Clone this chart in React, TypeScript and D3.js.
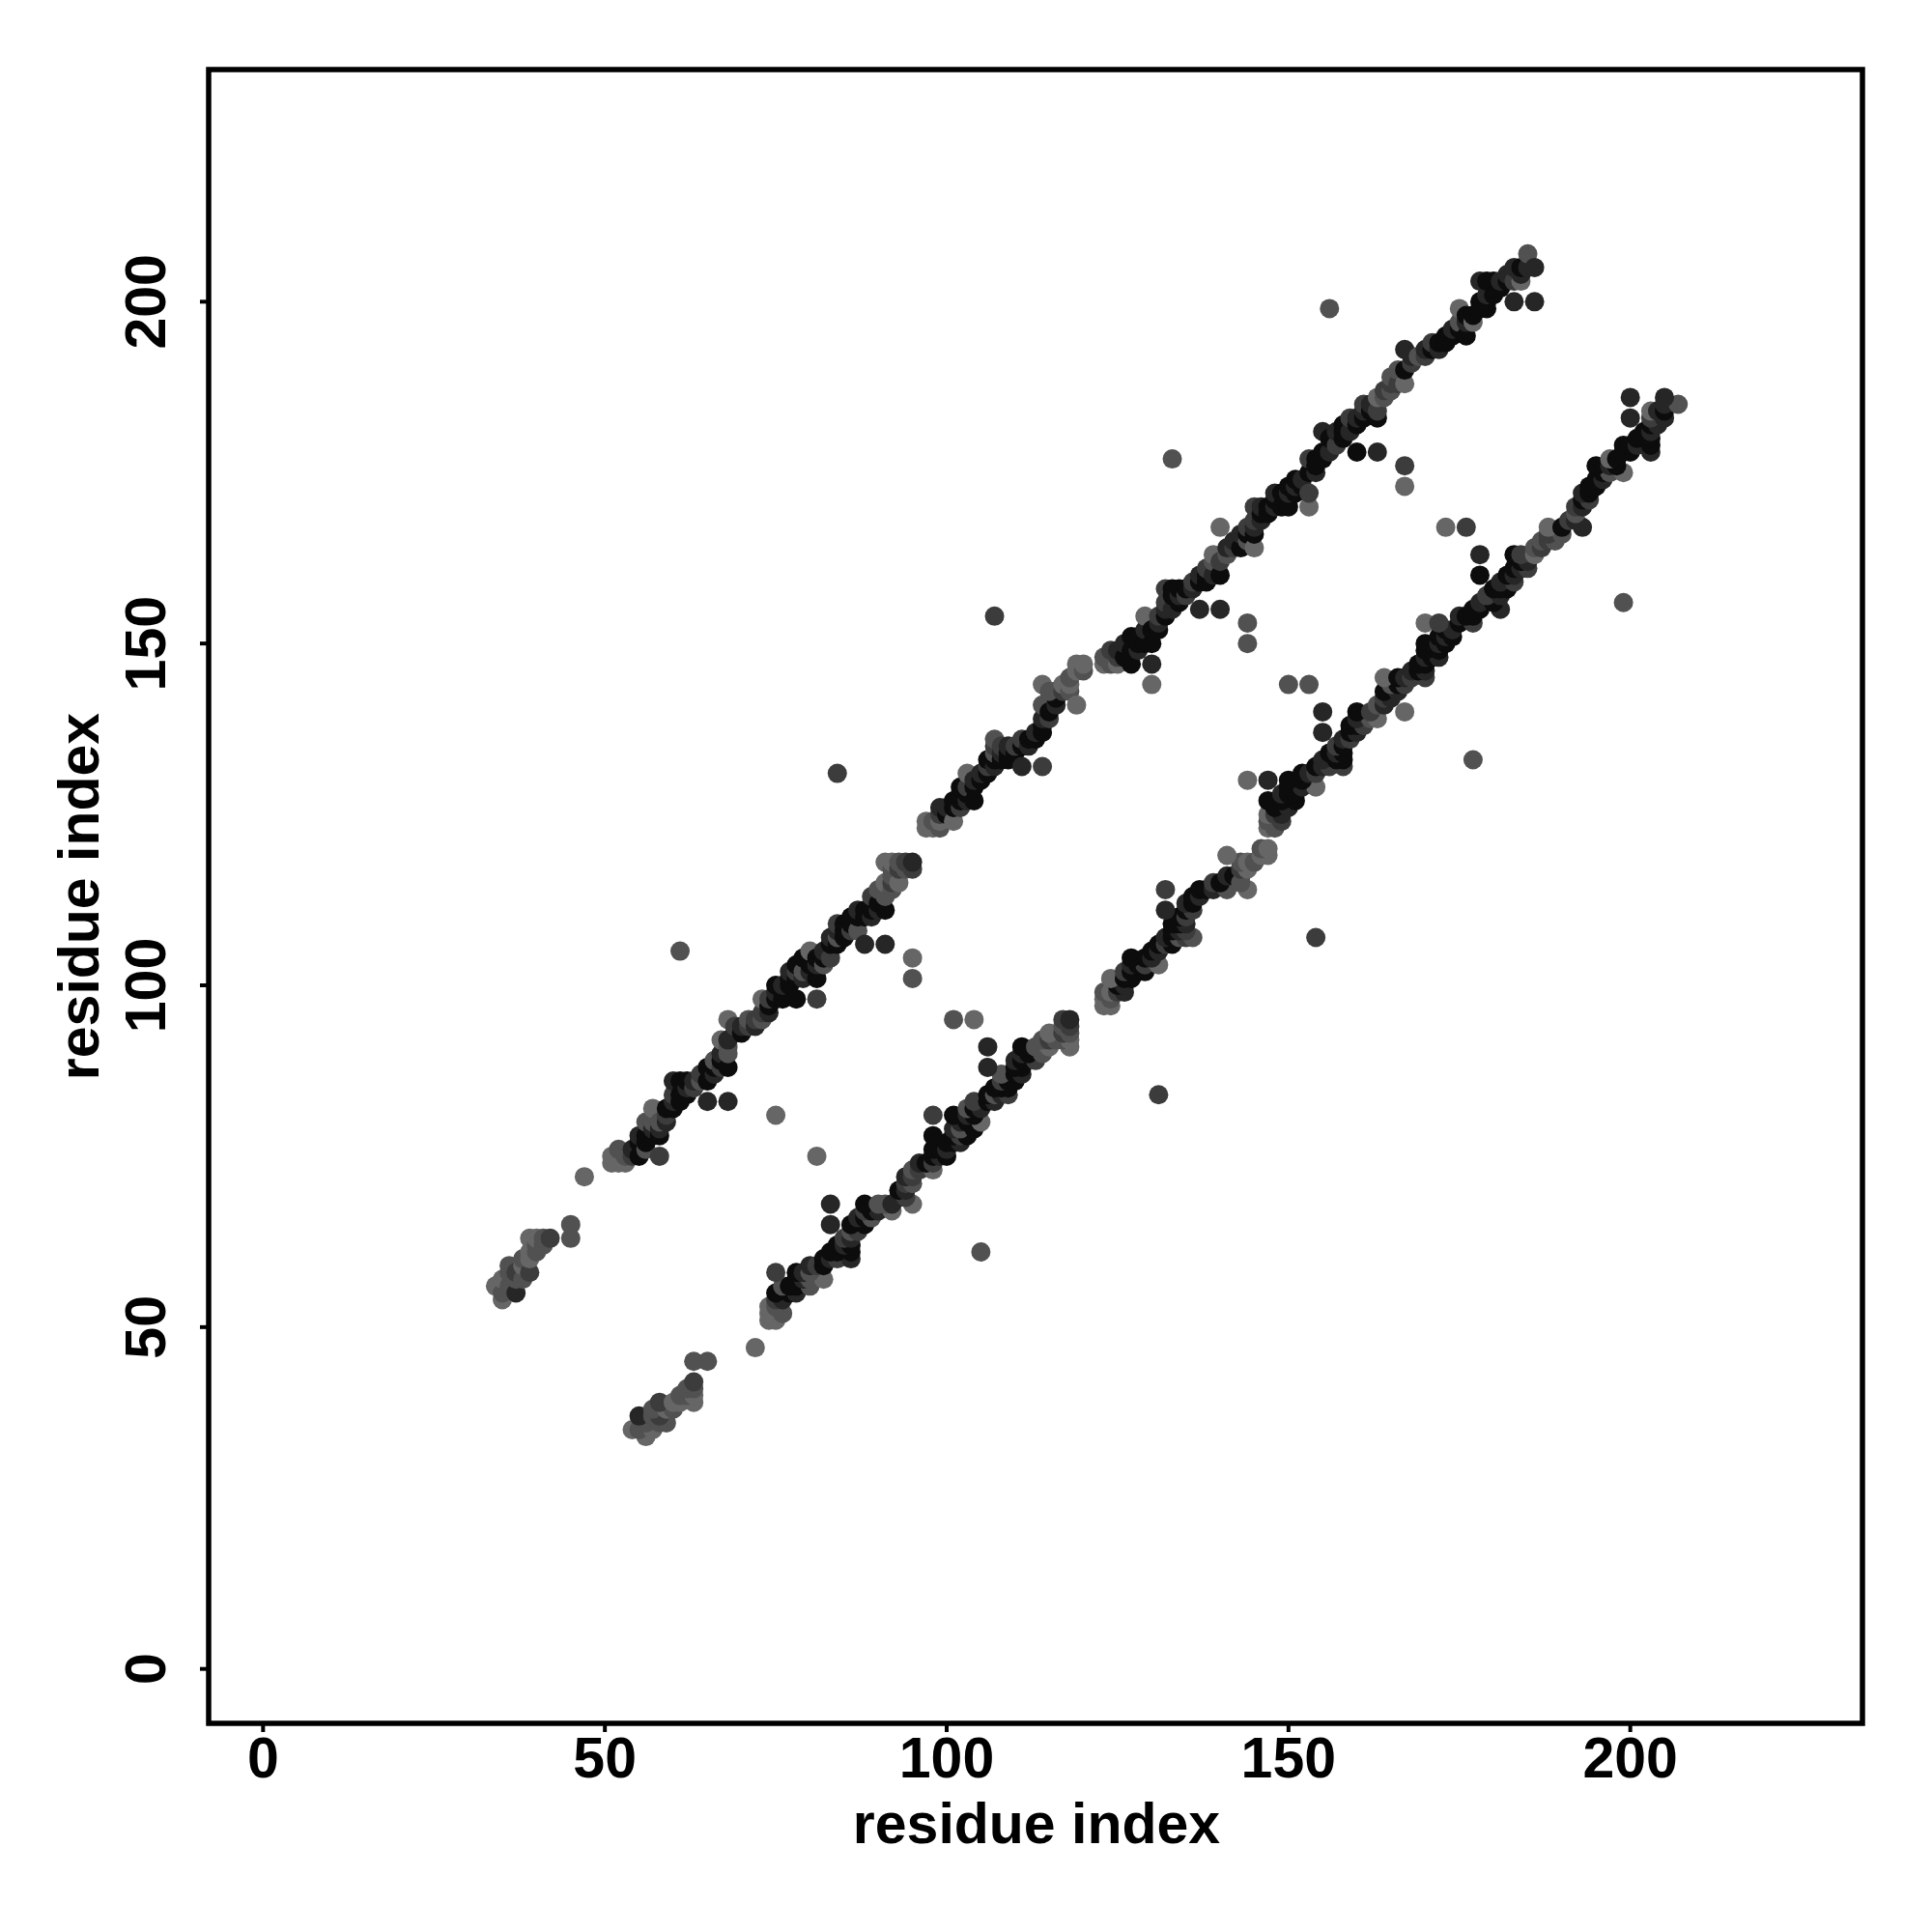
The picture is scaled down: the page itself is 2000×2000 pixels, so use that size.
import React from 'react';
import * as d3 from 'd3';

// ---- data ----
const X_TICKS = [0, 50, 100, 150, 200];
const Y_TICKS = [0, 50, 100, 150, 200];
const RESIDUE_RANGE = [1, 225];
const X_LABEL = 'residue index';
const Y_LABEL = 'residue index';
const SHADES = ['#0c0c0c', '#262626', '#3c3c3c', '#515151', '#666666'];

// contact pairs [residue i, residue j, shade level]; the map is symmetric
const SEGMENT_A: [number, number, number][] = [
  [34, 56, 4], [35, 54, 4], [35, 55, 3], [35, 57, 4], [36, 56, 3], [36, 58, 3], [36, 59, 3], [37, 55, 1],
  [37, 57, 3], [37, 58, 2], [38, 57, 3], [38, 59, 4], [38, 60, 3], [39, 58, 2], [39, 60, 4], [39, 61, 4],
  [39, 63, 4], [40, 61, 3], [40, 62, 3], [40, 63, 4], [41, 62, 3], [41, 63, 3], [42, 63, 2], [45, 63, 3],
  [45, 65, 3], [47, 72, 4],
];
const SEGMENT_B: [number, number, number][] = [
  [51, 74, 4], [51, 75, 4], [52, 74, 4], [52, 76, 3], [53, 74, 4], [53, 75, 3], [54, 75, 2], [54, 76, 1],
  [55, 75, 0], [55, 77, 0], [55, 78, 1], [56, 76, 3], [56, 77, 0], [56, 78, 0], [56, 80, 3], [57, 78, 0],
  [57, 79, 1], [57, 80, 3], [57, 82, 4], [58, 75, 2], [58, 78, 0], [58, 79, 1], [58, 80, 3], [59, 80, 1],
  [59, 81, 2], [59, 82, 0], [60, 82, 0], [60, 83, 1], [60, 84, 2], [60, 86, 1], [61, 83, 0], [61, 84, 0],
  [61, 86, 0], [62, 84, 0], [62, 85, 1], [62, 86, 0], [63, 85, 2], [63, 86, 1], [64, 86, 3], [64, 87, 2],
  [65, 83, 1], [65, 86, 0], [65, 88, 0], [66, 87, 1], [66, 88, 0], [66, 89, 3], [67, 88, 2], [67, 89, 0],
  [67, 90, 1], [67, 92, 4], [68, 83, 1], [68, 88, 0], [68, 90, 3], [68, 91, 3], [68, 92, 1], [68, 95, 4],
];
const SEGMENT_C: [number, number, number][] = [
  [69, 93, 1], [69, 94, 2], [70, 93, 0], [70, 94, 1], [71, 94, 2], [71, 95, 3], [72, 94, 1], [72, 95, 2],
  [73, 95, 3], [73, 96, 2], [73, 98, 4], [74, 96, 1], [74, 97, 0], [74, 98, 2], [75, 98, 0], [75, 99, 1],
  [75, 100, 0], [76, 98, 0], [76, 99, 0], [76, 100, 1], [77, 100, 0], [77, 101, 0], [77, 102, 1], [78, 98, 0],
  [78, 101, 0], [78, 102, 2], [78, 103, 0], [79, 101, 1], [79, 102, 3], [79, 104, 0], [80, 102, 1], [80, 103, 0],
  [80, 105, 4], [81, 98, 2], [81, 101, 0], [81, 103, 1], [81, 104, 0], [82, 103, 3], [82, 104, 0], [82, 105, 1],
  [83, 104, 2], [83, 106, 0], [83, 107, 1], [84, 106, 0], [84, 107, 3], [84, 108, 1], [84, 109, 2], [85, 107, 0],
  [85, 108, 0], [85, 109, 0], [86, 108, 2], [86, 109, 0], [86, 110, 0], [87, 108, 3], [87, 110, 0], [87, 111, 1],
  [88, 106, 1], [88, 110, 0], [88, 111, 0], [89, 110, 1], [89, 111, 0], [89, 113, 2], [90, 111, 1], [90, 112, 0],
  [90, 114, 3], [91, 106, 1], [91, 111, 0], [91, 113, 3], [91, 115, 4], [92, 114, 3], [92, 115, 2], [92, 116, 3],
  [91, 118, 4], [92, 117, 3], [92, 118, 4], [93, 115, 4], [93, 117, 2], [93, 118, 3], [94, 117, 3], [94, 118, 2],
  [95, 117, 2], [95, 118, 1], [95, 101, 3], [95, 104, 4],
];
const SEGMENT_D: [number, number, number][] = [
  [97, 123, 4], [97, 124, 4], [98, 123, 4], [98, 124, 3], [99, 123, 3], [99, 124, 4], [99, 125, 2], [99, 126, 1],
  [100, 125, 0], [100, 126, 1], [101, 124, 4], [101, 126, 0], [101, 127, 0], [102, 126, 2], [102, 127, 0], [102, 128, 0],
  [102, 129, 0], [103, 127, 1], [103, 128, 0], [103, 129, 2], [103, 131, 4], [104, 127, 0], [104, 129, 0], [104, 130, 1],
  [105, 130, 0], [105, 131, 1], [106, 131, 0], [106, 132, 2], [106, 133, 0], [107, 132, 1], [107, 133, 0], [107, 134, 3],
  [107, 135, 2], [107, 136, 3], [108, 133, 0], [108, 134, 1], [108, 135, 2], [109, 133, 0], [109, 134, 0], [109, 135, 1],
  [110, 134, 0], [110, 135, 2], [111, 132, 1], [111, 135, 0], [111, 136, 2], [112, 135, 1], [112, 136, 0], [113, 136, 0],
  [113, 137, 1], [114, 132, 2], [114, 137, 0], [114, 138, 0], [114, 139, 1], [114, 141, 3], [115, 139, 2], [115, 140, 0],
  [116, 141, 1], [116, 142, 0], [116, 143, 0], [114, 144, 4], [115, 143, 3], [117, 143, 2], [117, 144, 4], [118, 143, 3],
  [118, 144, 4], [118, 145, 3], [119, 141, 4], [119, 146, 4], [119, 147, 4], [120, 146, 3], [120, 147, 4],
];
const SEGMENT_E: [number, number, number][] = [
  [123, 147, 4], [123, 148, 3], [124, 147, 3], [124, 149, 2], [125, 147, 4], [125, 148, 2], [125, 149, 1], [126, 148, 0],
  [126, 150, 1], [127, 147, 0], [127, 149, 0], [127, 151, 0], [128, 149, 1], [128, 150, 0], [128, 151, 0], [129, 150, 0],
  [129, 152, 1], [129, 154, 4], [130, 147, 1], [130, 144, 4], [130, 150, 0], [130, 152, 0], [131, 152, 0], [131, 153, 1],
  [131, 154, 2], [132, 154, 0], [132, 155, 1], [132, 156, 2], [132, 158, 2], [133, 155, 1], [133, 157, 0], [133, 158, 0],
  [134, 156, 0], [134, 157, 1], [134, 158, 0], [135, 157, 2], [135, 158, 0], [136, 158, 1], [136, 159, 2], [137, 155, 1],
  [137, 159, 0], [137, 160, 1], [138, 159, 0], [138, 160, 0], [138, 161, 2], [139, 160, 1], [139, 162, 3], [139, 163, 4],
  [140, 155, 1], [140, 160, 0], [140, 162, 2], [140, 167, 4], [141, 163, 3], [141, 164, 1], [142, 164, 2], [142, 165, 1],
  [143, 164, 0], [143, 166, 1], [144, 150, 3], [144, 153, 3], [144, 165, 3], [144, 166, 0], [144, 167, 2], [145, 164, 4],
  [145, 166, 0], [145, 167, 1], [145, 168, 2], [145, 170, 2], [146, 168, 1], [146, 169, 0], [146, 170, 1], [147, 169, 0],
  [147, 170, 0], [148, 170, 1], [148, 171, 0], [148, 172, 1], [149, 170, 0], [149, 172, 0], [150, 170, 0], [150, 172, 1],
  [150, 173, 0], [151, 172, 0], [151, 173, 1], [151, 174, 0], [152, 173, 0], [152, 174, 1], [153, 170, 4], [153, 172, 2],
  [153, 175, 0], [153, 177, 2],
];
const SEGMENT_F: [number, number, number][] = [
  [154, 175, 1], [154, 176, 0], [154, 177, 0], [155, 177, 0], [155, 178, 0], [155, 181, 1], [156, 178, 1], [156, 180, 0],
  [157, 179, 2], [157, 181, 1], [158, 180, 0], [158, 181, 0], [158, 182, 0], [159, 181, 1], [159, 183, 2], [160, 178, 0],
  [160, 182, 0], [160, 183, 1], [161, 183, 0], [161, 184, 1], [161, 185, 2], [162, 184, 0], [162, 185, 1], [163, 178, 1],
  [163, 183, 0], [163, 184, 2], [163, 186, 4], [164, 186, 3], [164, 187, 2], [165, 187, 3], [165, 188, 2], [165, 189, 3],
  [166, 188, 2], [166, 190, 3], [167, 173, 4], [167, 176, 2], [167, 188, 4], [167, 190, 0], [167, 193, 1], [168, 191, 2],
  [168, 192, 1], [169, 192, 3], [170, 192, 2], [170, 193, 1], [171, 193, 0], [171, 194, 2], [172, 193, 1], [172, 194, 0],
  [173, 194, 0], [173, 195, 0], [174, 195, 0], [174, 196, 1], [175, 196, 0], [175, 197, 3], [175, 199, 4], [176, 195, 0],
  [176, 197, 1], [176, 198, 0], [177, 197, 4], [177, 198, 0], [178, 199, 0], [178, 200, 0], [178, 203, 1], [179, 199, 0],
  [179, 200, 0], [179, 201, 1], [179, 203, 0], [180, 201, 0], [180, 203, 0], [181, 202, 0], [181, 203, 1], [182, 203, 0],
  [182, 204, 1], [183, 200, 1], [183, 203, 2], [183, 205, 1], [184, 203, 4], [184, 204, 1], [184, 205, 0], [185, 205, 1],
  [185, 207, 3], [186, 200, 1], [186, 205, 1],
];
const OUTLIERS: [number, number, number][] = [
  [61, 105, 3], [75, 81, 4], [84, 131, 2], [107, 154, 2], [133, 177, 3], [156, 199, 3],
];

const CONTACTS = [
  ...SEGMENT_A, ...SEGMENT_B, ...SEGMENT_C, ...SEGMENT_D, ...SEGMENT_E, ...SEGMENT_F, ...OUTLIERS,
];

export default function App() {
  const W = 2000;
  const H = 2000;
  const left = 216, right = 1928, top = 72, bottom = 1784;
  const pad = (RESIDUE_RANGE[1] - RESIDUE_RANGE[0]) * 0.04;
  const dom = [RESIDUE_RANGE[0] - pad, RESIDUE_RANGE[1] + pad];
  const x = d3.scaleLinear().domain(dom).range([left, right]);
  const y = d3.scaleLinear().domain(dom).range([bottom, top]);

  const points = CONTACTS.flatMap(([i, j, s]) => [
    { px: i, py: j, s },
    { px: j, py: i, s },
  ]);

  const font = "'Liberation Sans', Arial, Helvetica, sans-serif";
  const fs = 59;

  return (
    <svg
      width={W}
      height={H}
      viewBox={`0 0 ${W} ${H}`}
      style={{ position: 'absolute', left: 0, top: 0, background: '#fff' }}
    >
      <rect x={0} y={0} width={W} height={H} fill="#fff" />
      <g>
        {points.map((p, k) => (
          <circle key={k} cx={x(p.px)} cy={y(p.py)} r={10} fill={SHADES[p.s]} />
        ))}
      </g>
      <rect
        x={left}
        y={top}
        width={right - left}
        height={bottom - top}
        fill="none"
        stroke="#000"
        strokeWidth={5.5}
      />
      {X_TICKS.map((t) => (
        <g key={'x' + t}>
          <line x1={x(t)} x2={x(t)} y1={bottom} y2={bottom + 9} stroke="#000" strokeWidth={4} />
          <text
            x={x(t)}
            y={1840}
            textAnchor="middle"
            fontFamily={font}
            fontWeight="bold"
            fontSize={fs}
            fill="#000"
          >
            {t}
          </text>
        </g>
      ))}
      {Y_TICKS.map((t) => (
        <g key={'y' + t}>
          <line x1={left - 9} x2={left} y1={y(t)} y2={y(t)} stroke="#000" strokeWidth={4} />
          <text
            transform={`translate(171, ${y(t)}) rotate(-90)`}
            textAnchor="middle"
            fontFamily={font}
            fontWeight="bold"
            fontSize={fs}
            fill="#000"
          >
            {t}
          </text>
        </g>
      ))}
      <text
        x={1073}
        y={1908}
        textAnchor="middle"
        fontFamily={font}
        fontWeight="bold"
        fontSize={fs}
        fill="#000"
      >
        {X_LABEL}
      </text>
      <text
        transform={`translate(102, ${(top + bottom) / 2}) rotate(-90)`}
        textAnchor="middle"
        fontFamily={font}
        fontWeight="bold"
        fontSize={fs}
        fill="#000"
      >
        {Y_LABEL}
      </text>
    </svg>
  );
}
